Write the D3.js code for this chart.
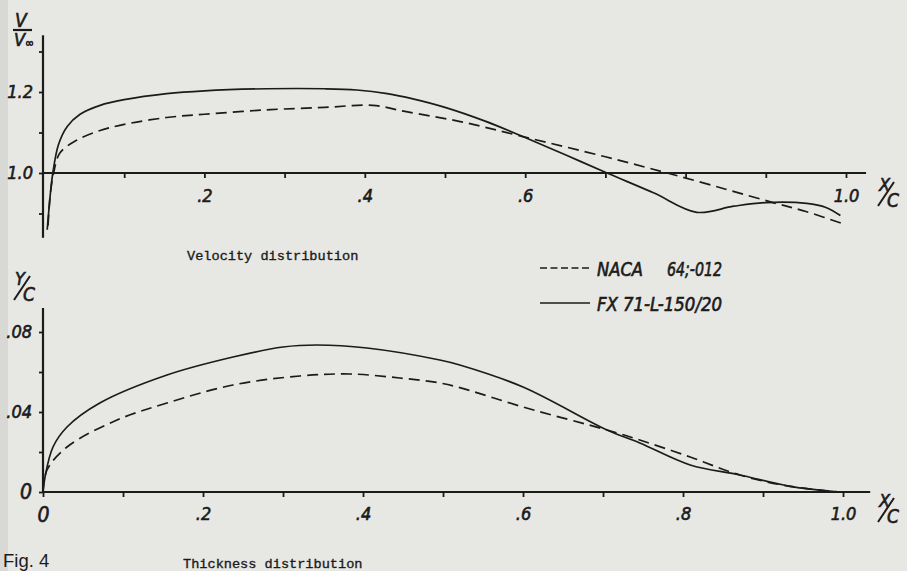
<!DOCTYPE html>
<html><head><meta charset="utf-8">
<script src="https://cdn.jsdelivr.net/npm/d3@7"></script>
<style>
html,body{margin:0;padding:0;background:#e7e7e4;}
svg{display:block;}
</style></head>
<body>
<svg id="chart" width="907" height="571"></svg>
<script>
// ---- data ----
const seriesNames = ["NACA 64;-012", "FX 71-L-150/20"];

// Velocity distribution V/V∞ vs x/c
const velNACA = [[0.005,0.87],[0.008,0.95],[0.012,1.0],[0.02,1.05],[0.04,1.08],[0.07,1.105],[0.1,1.12],[0.153,1.137],[0.2,1.145],[0.278,1.156],[0.35,1.162],[0.41,1.167],[0.45,1.152],[0.519,1.127],[0.597,1.09],[0.7,1.04],[0.777,1.0],[0.85,0.96],[0.909,0.927],[0.95,0.905],[1.0,0.872]];
const velFX = [[0.004,0.86],[0.008,0.95],[0.011,1.0],[0.018,1.07],[0.029,1.115],[0.045,1.145],[0.07,1.167],[0.1,1.181],[0.153,1.196],[0.2,1.203],[0.278,1.208],[0.35,1.208],[0.39,1.205],[0.428,1.196],[0.46,1.183],[0.5,1.162],[0.55,1.128],[0.597,1.09],[0.65,1.045],[0.702,1.0],[0.76,0.951],[0.814,0.903],[0.86,0.918],[0.9,0.927],[0.951,0.925],[0.975,0.915],[0.993,0.895]];

// Thickness distribution y/c vs x/c
const thkNACA = [[0,0],[0.005,0.011],[0.03,0.0225],[0.0925,0.036],[0.155,0.0445],[0.2375,0.0535],[0.321,0.058],[0.384,0.059],[0.446,0.057],[0.496,0.0545],[0.521,0.0522],[0.6,0.0425],[0.705,0.031],[0.746,0.026],[0.809,0.0175],[0.871,0.0085],[0.934,0.0028],[0.996,0]];
const thkFX = [[0,0],[0.0025,0.0075],[0.0125,0.0225],[0.03,0.0325],[0.071,0.0445],[0.155,0.0585],[0.2375,0.0675],[0.3,0.0725],[0.3425,0.0735],[0.405,0.072],[0.496,0.066],[0.521,0.0635],[0.6,0.0525],[0.705,0.031],[0.746,0.0245],[0.809,0.0135],[0.871,0.0085],[0.934,0.0028],[0.996,0]];

// ticks
const xTicks = [0.1,0.2,0.3,0.4,0.5,0.6,0.7,0.8,0.9,1.0];
const xTopLabels = [0.2,0.4,0.6,1.0];
const xBotTicks = [0,0.1,0.2,0.3,0.4,0.5,0.6,0.7,0.8,0.9,1.0];
const xBotLabels = [0,0.2,0.4,0.6,0.8,1.0];
const yTopTicks = [0.9,1.0,1.1,1.2,1.3];
const yTopLabels = [1.0,1.2];
const yBotTicks = [0,0.02,0.04,0.06,0.08];
const yBotLabels = [0,0.04,0.08];

// ---- drawing ----
const svg = d3.select("#chart");
const ink = "#1b1b1b";
const numFont = "'DejaVu Sans Condensed', 'DejaVu Sans', 'Liberation Sans', sans-serif";

svg.append("rect").attr("width",907).attr("height",571).attr("fill","#e7e7e4");
svg.append("rect").attr("width",8).attr("height",571).attr("fill","#d8d8d5");

const xTop = d3.scaleLinear().domain([0,1]).range([44,846]);
const yTop = d3.scaleLinear().domain([1.0,1.2]).range([173,92]);
const xBot = d3.scaleLinear().domain([0,1]).range([43,843]);
const yBot = d3.scaleLinear().domain([0,0.08]).range([492,332]);

function fmtX(d){ return d===0 ? "0" : (d===1 ? "1.0" : d3.format(".1f")(d).replace(/^0/,"")); }
function fmtYTop(d){ return d3.format(".1f")(d); }
function fmtYBot(d){ return d===0 ? "0" : d3.format(".2f")(d).replace(/^0/,""); }

function styleAxis(g){
  g.select(".domain").remove();
  g.selectAll(".tick line").attr("stroke",ink).attr("stroke-width",1.8);
  g.selectAll(".tick text").attr("fill",ink).attr("font-family",numFont)
    .attr("font-style","italic").attr("font-size",18).attr("stroke",ink).attr("stroke-width",0.6);
}

// ---------- top chart ----------
const gTop = svg.append("g");
gTop.append("line").attr("x1",xTop(0)-1).attr("x2",xTop(1.025)).attr("y1",yTop(1.0)).attr("y2",yTop(1.0))
  .attr("stroke",ink).attr("stroke-width",2.2);
gTop.append("line").attr("x1",xTop(0)-1).attr("x2",xTop(0)-1).attr("y1",yTop(1.34)).attr("y2",yTop(0.84))
  .attr("stroke",ink).attr("stroke-width",2.2);

gTop.append("g").attr("transform",`translate(0,${yTop(1.0)})`)
  .call(d3.axisBottom(xTop).tickValues(xTicks).tickSize(5).tickPadding(11)
    .tickFormat(d => xTopLabels.some(v=>Math.abs(v-d)<1e-9) ? fmtX(d) : ""))
  .call(styleAxis);
gTop.append("g").attr("transform",`translate(${xTop(0)-1},0)`)
  .call(d3.axisLeft(yTop).tickValues(yTopTicks).tickSize(4).tickPadding(6)
    .tickFormat(d => yTopLabels.some(v=>Math.abs(v-d)<1e-9) ? fmtYTop(d) : ""))
  .call(styleAxis);

const curve = d3.curveCatmullRom.alpha(0.5);
const lineTop = d3.line().x(d=>xTop(d[0])).y(d=>yTop(d[1])).curve(curve);
gTop.append("path").datum(velFX).attr("d",lineTop).attr("fill","none").attr("stroke",ink).attr("stroke-width",1.7);
gTop.append("path").datum(velNACA).attr("d",lineTop).attr("fill","none").attr("stroke",ink).attr("stroke-width",1.7)
  .attr("stroke-dasharray","11,6");

// ---------- bottom chart ----------
const gBot = svg.append("g");
gBot.append("line").attr("x1",xBot(0)-1).attr("x2",xBot(1.034)).attr("y1",yBot(0)).attr("y2",yBot(0))
  .attr("stroke",ink).attr("stroke-width",2.2);
gBot.append("line").attr("x1",xBot(0)).attr("x2",xBot(0)).attr("y1",yBot(0)+1).attr("y2",yBot(0.092))
  .attr("stroke",ink).attr("stroke-width",2.2);

gBot.append("g").attr("transform",`translate(0,${yBot(0)})`)
  .call(d3.axisBottom(xBot).tickValues(xBotTicks).tickSize(5).tickPadding(10)
    .tickFormat(d => xBotLabels.some(v=>Math.abs(v-d)<1e-9) ? fmtX(d) : ""))
  .call(styleAxis);
gBot.append("g").attr("transform",`translate(${xBot(0)},0)`)
  .call(d3.axisLeft(yBot).tickValues(yBotTicks).tickSize(4).tickPadding(7)
    .tickFormat(d => yBotLabels.some(v=>Math.abs(v-d)<1e-9) ? fmtYBot(d) : ""))
  .call(styleAxis);
gBot.selectAll(".tick text").filter(d=>d===0).attr("font-size",21);

const lineBot = d3.line().x(d=>xBot(d[0])).y(d=>yBot(d[1])).curve(curve);
gBot.append("path").datum(thkFX).attr("d",lineBot).attr("fill","none").attr("stroke",ink).attr("stroke-width",1.7);
gBot.append("path").datum(thkNACA).attr("d",lineBot).attr("fill","none").attr("stroke",ink).attr("stroke-width",1.7)
  .attr("stroke-dasharray","11,6");

// ---------- axis titles ----------
const italic = (sel)=>sel.attr("font-family",numFont).attr("font-style","italic").attr("fill",ink)
  .attr("stroke",ink).attr("stroke-width",0.6);
// V / V∞
italic(svg.append("text").attr("x",15).attr("y",27).attr("font-size",19).text("V"));
svg.append("line").attr("x1",13).attr("x2",32).attr("y1",30).attr("y2",30).attr("stroke",ink).attr("stroke-width",2.2);
const vinf = italic(svg.append("text").attr("x",14).attr("y",46).attr("font-size",18));
vinf.append("tspan").text("V");
vinf.append("tspan").attr("font-size",12).attr("dy",1).text("∞");

function slashLabel(x, y, top, bottom){
  italic(svg.append("text").attr("x",x).attr("y",y).attr("font-size",18).text(top));
  svg.append("line").attr("x1",x-1).attr("y1",y+15).attr("x2",x+15).attr("y2",y-9)
    .attr("stroke",ink).attr("stroke-width",2);
  italic(svg.append("text").attr("x",x+8).attr("y",y+16).attr("font-size",19).text(bottom));
}
slashLabel(15, 285, "Y", "C");
slashLabel(879, 191, "X", "C");
slashLabel(879, 507, "X", "C");

// ---------- legend ----------
const lg = svg.append("g");
lg.append("line").attr("x1",540).attr("x2",590).attr("y1",268).attr("y2",268).attr("stroke",ink)
  .attr("stroke-width",1.6).attr("stroke-dasharray","7,3.5");
lg.append("line").attr("x1",540).attr("x2",590).attr("y1",303).attr("y2",303).attr("stroke",ink).attr("stroke-width",1.6);
italic(lg.append("text").attr("x",597).attr("y",276).attr("font-size",19)
  .attr("textLength",46).attr("lengthAdjust","spacingAndGlyphs").text("NACA"));
italic(lg.append("text").attr("x",667).attr("y",276).attr("font-size",19)
  .attr("textLength",55).attr("lengthAdjust","spacingAndGlyphs").text("64;-012"));
italic(lg.append("text").attr("x",597).attr("y",311).attr("font-size",19)
  .attr("textLength",125).attr("lengthAdjust","spacingAndGlyphs").text(seriesNames[1]));

// ---------- captions ----------
const mono = "'Liberation Mono', 'DejaVu Sans Mono', monospace";
svg.append("text").attr("x",187).attr("y",260).attr("font-family",mono).attr("font-size",13.6)
  .attr("fill",ink).attr("stroke",ink).attr("stroke-width",0.35).text("Velocity distribution");
svg.append("text").attr("x",183).attr("y",568).attr("font-family",mono).attr("font-size",13.6)
  .attr("fill",ink).attr("stroke",ink).attr("stroke-width",0.35).text("Thickness distribution");
svg.append("text").attr("x",3).attr("y",567).attr("font-family","'Liberation Sans', Arial, sans-serif")
  .attr("font-size",18.5).attr("fill",ink).text("Fig. 4");
</script>
</body></html>
